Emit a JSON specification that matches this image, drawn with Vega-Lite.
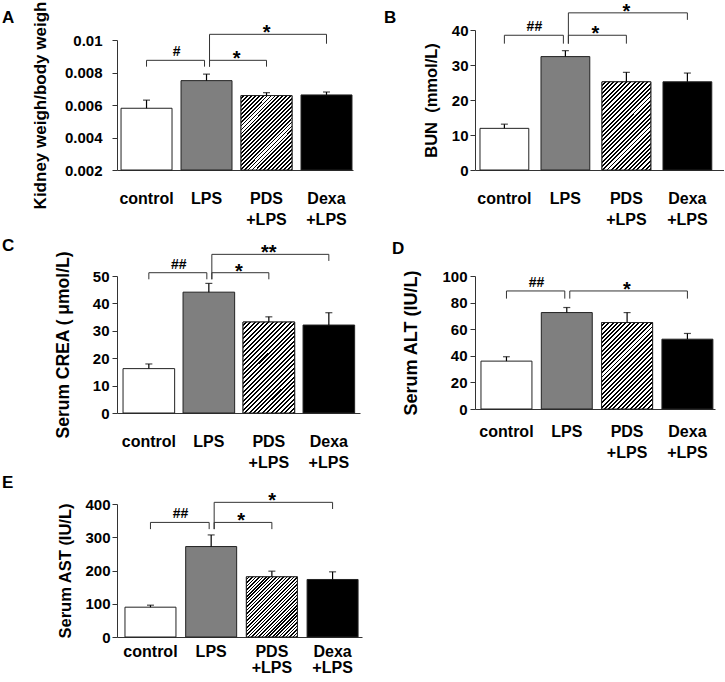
{
"$schema": "https://vega.github.io/schema/vega-lite/v6.json",
"padding": {"left": 2, "top": 1, "right": 0, "bottom": 2},
"datasets": {
"bars": [
{"p":"A","g":"control","m":0.0058,"u":0.0063},
{"p":"A","g":"LPS","m":0.0075,"u":0.0079},
{"p":"A","g":"PDS +LPS","m":0.00658,"u":0.00676},
{"p":"A","g":"Dexa +LPS","m":0.00662,"u":0.0068},
{"p":"B","g":"control","m":11.9,"u":13.1},
{"p":"B","g":"LPS","m":32.4,"u":34.1},
{"p":"B","g":"PDS +LPS","m":25.2,"u":27.9},
{"p":"B","g":"Dexa +LPS","m":25.2,"u":27.7},
{"p":"C","g":"control","m":16.2,"u":17.9},
{"p":"C","g":"LPS","m":44.1,"u":47.3},
{"p":"C","g":"PDS +LPS","m":33.2,"u":35.1},
{"p":"C","g":"Dexa +LPS","m":32.1,"u":36.6},
{"p":"D","g":"control","m":36,"u":39.3},
{"p":"D","g":"LPS","m":72.5,"u":76.3},
{"p":"D","g":"PDS +LPS","m":65,"u":72.5},
{"p":"D","g":"Dexa +LPS","m":52.5,"u":56.8},
{"p":"E","g":"control","m":89.7,"u":95.7},
{"p":"E","g":"LPS","m":272,"u":307},
{"p":"E","g":"PDS +LPS","m":181,"u":198},
{"p":"E","g":"Dexa +LPS","m":173,"u":196}
],
"br": [
{"p":"A","a":"control","b":"LPS","y":0.00875,"ya":0.00836,"yb":0.00836,"t":"#"},
{"p":"A","a":"LPS","b":"PDS +LPS","y":0.00875,"ya":0.00836,"yb":0.00836,"t":"*"},
{"p":"A","a":"LPS","b":"Dexa +LPS","y":0.01035,"ya":0.00836,"yb":0.00977,"t":"*"},
{"p":"B","a":"control","b":"LPS","y":38.5,"ya":36.1,"yb":36.1,"t":"##"},
{"p":"B","a":"LPS","b":"PDS +LPS","y":38.5,"ya":36.1,"yb":36.1,"t":"*"},
{"p":"B","a":"LPS","b":"Dexa +LPS","y":44.9,"ya":36.1,"yb":42.9,"t":"*"},
{"p":"C","a":"control","b":"LPS","y":51.2,"ya":48.8,"yb":48.8,"t":"##"},
{"p":"C","a":"LPS","b":"PDS +LPS","y":51.2,"ya":48.8,"yb":48.8,"t":"*"},
{"p":"C","a":"LPS","b":"Dexa +LPS","y":57.9,"ya":48.8,"yb":55.5,"t":"**"},
{"p":"D","a":"control","b":"LPS","y":88.75,"ya":83,"yb":83,"t":"##"},
{"p":"D","a":"LPS","b":"Dexa +LPS","y":88.75,"ya":83,"yb":83,"t":"*"},
{"p":"E","a":"control","b":"LPS","y":344.6,"ya":324.4,"yb":324.4,"t":"##"},
{"p":"E","a":"LPS","b":"PDS +LPS","y":344.6,"ya":324.4,"yb":324.4,"t":"*"},
{"p":"E","a":"LPS","b":"Dexa +LPS","y":405,"ya":324.4,"yb":385,"t":"*"}
]
},
"columns": 2,
"bounds": "flush",
"align": "none",
"spacing": {"row": 106, "column": 107},
"concat": [
{
"width": 251, "height": 140,
"title": {"text": "A", "dx": -115, "dy": 30},
"layer": [
{"data": {"name": "bars"}, "transform": [{"filter": "datum.p==='A'"}],
 "mark": {"type": "bar", "stroke": "#222", "strokeWidth": 1},
 "encoding": {
  "x": {"field": "g", "type": "nominal", "scale": {"domain": ["control","LPS","PDS +LPS","Dexa +LPS"], "range": [0, 236], "paddingInner": 0.15, "paddingOuter": 0.042, "align": 0.8}, "axis": {"title": null, "labelExpr": "split(datum.label, ' ')"}},
  "y": {"field": "m", "type": "quantitative", "scale": {"domain": [0.002, 0.01], "range": [140, 10], "nice": false, "zero": false}, "axis": {"title": "Kidney weigh/body weigh", "titleFontSize": 17, "values": [0.002, 0.004, 0.006, 0.008, 0.01], "tickCount": 12, "labelOverlap": false, "format": ".3~f", "labelPadding": 10, "titlePadding": 15}},
  "y2": {"datum": 0.002},
  "fill": {"field": "g", "type": "nominal", "scale": {"domain": ["control","LPS","PDS +LPS","Dexa +LPS"], "range": ["#ffffff","#7f7f7f","#ffffff","#000000"]}, "legend": null}
 }},
{"data": {"name": "bars"}, "transform": [{"filter": "datum.p==='A' && datum.g==='PDS +LPS'"}],
 "mark": {"type": "bar", "stroke": "#222", "strokeWidth": 1, "fill": {"gradient": "linear", "x1": 0, "y1": 0, "x2": 0.787, "y2": 1.146, "stops": [{"offset":0,"color":"#fff"},{"offset":0.0172,"color":"#fff"},{"offset":0.0172,"color":"#000"},{"offset":0.0313,"color":"#000"},{"offset":0.0313,"color":"#fff"},{"offset":0.0484,"color":"#fff"},{"offset":0.0484,"color":"#000"},{"offset":0.0625,"color":"#000"},{"offset":0.0625,"color":"#fff"},{"offset":0.0797,"color":"#fff"},{"offset":0.0797,"color":"#000"},{"offset":0.0938,"color":"#000"},{"offset":0.0938,"color":"#fff"},{"offset":0.1109,"color":"#fff"},{"offset":0.1109,"color":"#000"},{"offset":0.125,"color":"#000"},{"offset":0.125,"color":"#fff"},{"offset":0.1422,"color":"#fff"},{"offset":0.1422,"color":"#000"},{"offset":0.1563,"color":"#000"},{"offset":0.1563,"color":"#fff"},{"offset":0.1734,"color":"#fff"},{"offset":0.1734,"color":"#000"},{"offset":0.1875,"color":"#000"},{"offset":0.1875,"color":"#fff"},{"offset":0.2047,"color":"#fff"},{"offset":0.2047,"color":"#000"},{"offset":0.2188,"color":"#000"},{"offset":0.2188,"color":"#fff"},{"offset":0.2359,"color":"#fff"},{"offset":0.2359,"color":"#000"},{"offset":0.25,"color":"#000"},{"offset":0.25,"color":"#fff"},{"offset":0.2672,"color":"#fff"},{"offset":0.2672,"color":"#000"},{"offset":0.2813,"color":"#000"},{"offset":0.2813,"color":"#fff"},{"offset":0.2984,"color":"#fff"},{"offset":0.2984,"color":"#000"},{"offset":0.3125,"color":"#000"},{"offset":0.3125,"color":"#fff"},{"offset":0.3297,"color":"#fff"},{"offset":0.3297,"color":"#000"},{"offset":0.3438,"color":"#000"},{"offset":0.3438,"color":"#fff"},{"offset":0.3609,"color":"#fff"},{"offset":0.3609,"color":"#000"},{"offset":0.375,"color":"#000"},{"offset":0.375,"color":"#fff"},{"offset":0.3922,"color":"#fff"},{"offset":0.3922,"color":"#000"},{"offset":0.4063,"color":"#000"},{"offset":0.4063,"color":"#fff"},{"offset":0.4234,"color":"#fff"},{"offset":0.4234,"color":"#000"},{"offset":0.4375,"color":"#000"},{"offset":0.4375,"color":"#fff"},{"offset":0.4547,"color":"#fff"},{"offset":0.4547,"color":"#000"},{"offset":0.4688,"color":"#000"},{"offset":0.4688,"color":"#fff"},{"offset":0.4859,"color":"#fff"},{"offset":0.4859,"color":"#000"},{"offset":0.5,"color":"#000"},{"offset":0.5,"color":"#fff"},{"offset":0.5172,"color":"#fff"},{"offset":0.5172,"color":"#000"},{"offset":0.5313,"color":"#000"},{"offset":0.5313,"color":"#fff"},{"offset":0.5484,"color":"#fff"},{"offset":0.5484,"color":"#000"},{"offset":0.5625,"color":"#000"},{"offset":0.5625,"color":"#fff"},{"offset":0.5797,"color":"#fff"},{"offset":0.5797,"color":"#000"},{"offset":0.5938,"color":"#000"},{"offset":0.5938,"color":"#fff"},{"offset":0.6109,"color":"#fff"},{"offset":0.6109,"color":"#000"},{"offset":0.625,"color":"#000"},{"offset":0.625,"color":"#fff"},{"offset":0.6422,"color":"#fff"},{"offset":0.6422,"color":"#000"},{"offset":0.6563,"color":"#000"},{"offset":0.6563,"color":"#fff"},{"offset":0.6734,"color":"#fff"},{"offset":0.6734,"color":"#000"},{"offset":0.6875,"color":"#000"},{"offset":0.6875,"color":"#fff"},{"offset":0.7047,"color":"#fff"},{"offset":0.7047,"color":"#000"},{"offset":0.7188,"color":"#000"},{"offset":0.7188,"color":"#fff"},{"offset":0.7359,"color":"#fff"},{"offset":0.7359,"color":"#000"},{"offset":0.75,"color":"#000"},{"offset":0.75,"color":"#fff"},{"offset":0.7672,"color":"#fff"},{"offset":0.7672,"color":"#000"},{"offset":0.7813,"color":"#000"},{"offset":0.7813,"color":"#fff"},{"offset":0.7984,"color":"#fff"},{"offset":0.7984,"color":"#000"},{"offset":0.8125,"color":"#000"},{"offset":0.8125,"color":"#fff"},{"offset":0.8297,"color":"#fff"},{"offset":0.8297,"color":"#000"},{"offset":0.8438,"color":"#000"},{"offset":0.8438,"color":"#fff"},{"offset":0.8609,"color":"#fff"},{"offset":0.8609,"color":"#000"},{"offset":0.875,"color":"#000"},{"offset":0.875,"color":"#fff"},{"offset":0.8922,"color":"#fff"},{"offset":0.8922,"color":"#000"},{"offset":0.9063,"color":"#000"},{"offset":0.9063,"color":"#fff"},{"offset":0.9234,"color":"#fff"},{"offset":0.9234,"color":"#000"},{"offset":0.9375,"color":"#000"},{"offset":0.9375,"color":"#fff"},{"offset":0.9547,"color":"#fff"},{"offset":0.9547,"color":"#000"},{"offset":0.9688,"color":"#000"},{"offset":0.9688,"color":"#fff"},{"offset":0.9859,"color":"#fff"},{"offset":0.9859,"color":"#000"},{"offset":1,"color":"#000"}]}},
 "encoding": {"x": {"field": "g", "type": "nominal"}, "y": {"field": "m", "type": "quantitative"}, "y2": {"datum": 0.002}}},
{"data": {"name": "bars"}, "transform": [{"filter": "datum.p==='A'"}],
 "mark": {"type": "rule", "color": "#000", "strokeWidth": 1.2},
 "encoding": {"x": {"field": "g", "type": "nominal"}, "y": {"field": "m", "type": "quantitative"}, "y2": {"field": "u"}}},
{"data": {"name": "bars"}, "transform": [{"filter": "datum.p==='A'"}],
 "mark": {"type": "tick", "color": "#000", "thickness": 1.2, "size": 7},
 "encoding": {"x": {"field": "g", "type": "nominal"}, "y": {"field": "u", "type": "quantitative"}}},
{"data": {"name": "br"}, "transform": [{"filter": "datum.p==='A' && datum.a==='control'"}],
 "mark": {"type": "rule", "color": "#333", "strokeWidth": 1, "x2Offset": -2},
 "encoding": {"x": {"field": "a", "type": "nominal"}, "x2": {"field": "b"}, "y": {"field": "y", "type": "quantitative"}}},
{"data": {"name": "br"}, "transform": [{"filter": "datum.p==='A' && datum.a==='control'"}],
 "mark": {"type": "rule", "color": "#333", "strokeWidth": 1},
 "encoding": {"x": {"field": "a", "type": "nominal"}, "y": {"field": "y", "type": "quantitative"}, "y2": {"field": "ya"}}},
{"data": {"name": "br"}, "transform": [{"filter": "datum.p==='A' && datum.a==='control'"}],
 "mark": {"type": "rule", "color": "#333", "strokeWidth": 1, "xOffset": -2},
 "encoding": {"x": {"field": "b", "type": "nominal"}, "y": {"field": "y", "type": "quantitative"}, "y2": {"field": "yb"}}},
{"data": {"name": "br"}, "transform": [{"filter": "datum.p==='A' && datum.a==='LPS'"}],
 "mark": {"type": "rule", "color": "#333", "strokeWidth": 1, "xOffset": 3},
 "encoding": {"x": {"field": "a", "type": "nominal"}, "x2": {"field": "b"}, "y": {"field": "y", "type": "quantitative"}}},
{"data": {"name": "br"}, "transform": [{"filter": "datum.p==='A' && datum.a==='LPS'"}],
 "mark": {"type": "rule", "color": "#333", "strokeWidth": 1, "xOffset": 3},
 "encoding": {"x": {"field": "a", "type": "nominal"}, "y": {"field": "y", "type": "quantitative"}, "y2": {"field": "ya"}}},
{"data": {"name": "br"}, "transform": [{"filter": "datum.p==='A' && datum.a==='LPS'"}],
 "mark": {"type": "rule", "color": "#333", "strokeWidth": 1},
 "encoding": {"x": {"field": "b", "type": "nominal"}, "y": {"field": "y", "type": "quantitative"}, "y2": {"field": "yb"}}},
{"data": {"name": "br"}, "transform": [{"filter": "datum.p==='A' && datum.a==='control'"}],
 "mark": {"type": "text", "fontSize": 14, "fontWeight": "bold", "baseline": "alphabetic", "dy": -4, "xOffset": 30},
 "encoding": {"x": {"field": "a", "type": "nominal"}, "y": {"field": "y", "type": "quantitative"}, "text": {"field": "t"}}},
{"data": {"name": "br"}, "transform": [{"filter": "datum.p==='A' && datum.a==='LPS' && datum.b==='PDS +LPS'"}],
 "mark": {"type": "text", "fontSize": 20, "fontWeight": "bold", "baseline": "alphabetic", "dy": 5, "xOffset": 30},
 "encoding": {"x": {"field": "a", "type": "nominal"}, "y": {"field": "y", "type": "quantitative"}, "text": {"field": "t"}}},
{"data": {"name": "br"}, "transform": [{"filter": "datum.p==='A' && datum.a==='LPS' && datum.b==='Dexa +LPS'"}],
 "mark": {"type": "text", "fontSize": 20, "fontWeight": "bold", "baseline": "alphabetic", "dy": 5, "xOffset": 60},
 "encoding": {"x": {"field": "a", "type": "nominal"}, "y": {"field": "y", "type": "quantitative"}, "text": {"field": "t"}}}
]
},
{
"width": 249, "height": 140,
"title": {"text": "B", "dx": -91, "dy": 29},
"layer": [
{"data": {"name": "bars"}, "transform": [{"filter": "datum.p==='B'"}],
 "mark": {"type": "bar", "stroke": "#222", "strokeWidth": 1},
 "encoding": {
  "x": {"field": "g", "type": "nominal", "scale": {"domain": ["control","LPS","PDS +LPS","Dexa +LPS"], "range": [0, 249], "paddingInner": 0.2, "paddingOuter": 0.141, "align": 0.29}, "axis": {"title": null, "labelExpr": "split(datum.label, ' ')"}},
  "y": {"field": "m", "type": "quantitative", "scale": {"domain": [0, 40], "nice": false}, "axis": {"title": "BUN\u00a0 (mmol/L)", "titleFontSize": 16.5, "values": [0, 10, 20, 30, 40], "tickCount": 12, "labelOverlap": false, "labelPadding": 2, "titlePadding": 12}},
  "fill": {"field": "g", "type": "nominal", "scale": {"domain": ["control","LPS","PDS +LPS","Dexa +LPS"], "range": ["#ffffff","#7f7f7f","#ffffff","#000000"]}, "legend": null}
 }},
{"data": {"name": "bars"}, "transform": [{"filter": "datum.p==='B' && datum.g==='PDS +LPS'"}],
 "mark": {"type": "bar", "stroke": "#222", "strokeWidth": 1, "fill": {"gradient": "linear", "x1": 0, "y1": 0, "x2": 0.658, "y2": 1.189, "stops": [{"offset":0,"color":"#fff"},{"offset":0.0172,"color":"#fff"},{"offset":0.0172,"color":"#000"},{"offset":0.0313,"color":"#000"},{"offset":0.0313,"color":"#fff"},{"offset":0.0484,"color":"#fff"},{"offset":0.0484,"color":"#000"},{"offset":0.0625,"color":"#000"},{"offset":0.0625,"color":"#fff"},{"offset":0.0797,"color":"#fff"},{"offset":0.0797,"color":"#000"},{"offset":0.0938,"color":"#000"},{"offset":0.0938,"color":"#fff"},{"offset":0.1109,"color":"#fff"},{"offset":0.1109,"color":"#000"},{"offset":0.125,"color":"#000"},{"offset":0.125,"color":"#fff"},{"offset":0.1422,"color":"#fff"},{"offset":0.1422,"color":"#000"},{"offset":0.1563,"color":"#000"},{"offset":0.1563,"color":"#fff"},{"offset":0.1734,"color":"#fff"},{"offset":0.1734,"color":"#000"},{"offset":0.1875,"color":"#000"},{"offset":0.1875,"color":"#fff"},{"offset":0.2047,"color":"#fff"},{"offset":0.2047,"color":"#000"},{"offset":0.2188,"color":"#000"},{"offset":0.2188,"color":"#fff"},{"offset":0.2359,"color":"#fff"},{"offset":0.2359,"color":"#000"},{"offset":0.25,"color":"#000"},{"offset":0.25,"color":"#fff"},{"offset":0.2672,"color":"#fff"},{"offset":0.2672,"color":"#000"},{"offset":0.2813,"color":"#000"},{"offset":0.2813,"color":"#fff"},{"offset":0.2984,"color":"#fff"},{"offset":0.2984,"color":"#000"},{"offset":0.3125,"color":"#000"},{"offset":0.3125,"color":"#fff"},{"offset":0.3297,"color":"#fff"},{"offset":0.3297,"color":"#000"},{"offset":0.3438,"color":"#000"},{"offset":0.3438,"color":"#fff"},{"offset":0.3609,"color":"#fff"},{"offset":0.3609,"color":"#000"},{"offset":0.375,"color":"#000"},{"offset":0.375,"color":"#fff"},{"offset":0.3922,"color":"#fff"},{"offset":0.3922,"color":"#000"},{"offset":0.4063,"color":"#000"},{"offset":0.4063,"color":"#fff"},{"offset":0.4234,"color":"#fff"},{"offset":0.4234,"color":"#000"},{"offset":0.4375,"color":"#000"},{"offset":0.4375,"color":"#fff"},{"offset":0.4547,"color":"#fff"},{"offset":0.4547,"color":"#000"},{"offset":0.4688,"color":"#000"},{"offset":0.4688,"color":"#fff"},{"offset":0.4859,"color":"#fff"},{"offset":0.4859,"color":"#000"},{"offset":0.5,"color":"#000"},{"offset":0.5,"color":"#fff"},{"offset":0.5172,"color":"#fff"},{"offset":0.5172,"color":"#000"},{"offset":0.5313,"color":"#000"},{"offset":0.5313,"color":"#fff"},{"offset":0.5484,"color":"#fff"},{"offset":0.5484,"color":"#000"},{"offset":0.5625,"color":"#000"},{"offset":0.5625,"color":"#fff"},{"offset":0.5797,"color":"#fff"},{"offset":0.5797,"color":"#000"},{"offset":0.5938,"color":"#000"},{"offset":0.5938,"color":"#fff"},{"offset":0.6109,"color":"#fff"},{"offset":0.6109,"color":"#000"},{"offset":0.625,"color":"#000"},{"offset":0.625,"color":"#fff"},{"offset":0.6422,"color":"#fff"},{"offset":0.6422,"color":"#000"},{"offset":0.6563,"color":"#000"},{"offset":0.6563,"color":"#fff"},{"offset":0.6734,"color":"#fff"},{"offset":0.6734,"color":"#000"},{"offset":0.6875,"color":"#000"},{"offset":0.6875,"color":"#fff"},{"offset":0.7047,"color":"#fff"},{"offset":0.7047,"color":"#000"},{"offset":0.7188,"color":"#000"},{"offset":0.7188,"color":"#fff"},{"offset":0.7359,"color":"#fff"},{"offset":0.7359,"color":"#000"},{"offset":0.75,"color":"#000"},{"offset":0.75,"color":"#fff"},{"offset":0.7672,"color":"#fff"},{"offset":0.7672,"color":"#000"},{"offset":0.7813,"color":"#000"},{"offset":0.7813,"color":"#fff"},{"offset":0.7984,"color":"#fff"},{"offset":0.7984,"color":"#000"},{"offset":0.8125,"color":"#000"},{"offset":0.8125,"color":"#fff"},{"offset":0.8297,"color":"#fff"},{"offset":0.8297,"color":"#000"},{"offset":0.8438,"color":"#000"},{"offset":0.8438,"color":"#fff"},{"offset":0.8609,"color":"#fff"},{"offset":0.8609,"color":"#000"},{"offset":0.875,"color":"#000"},{"offset":0.875,"color":"#fff"},{"offset":0.8922,"color":"#fff"},{"offset":0.8922,"color":"#000"},{"offset":0.9063,"color":"#000"},{"offset":0.9063,"color":"#fff"},{"offset":0.9234,"color":"#fff"},{"offset":0.9234,"color":"#000"},{"offset":0.9375,"color":"#000"},{"offset":0.9375,"color":"#fff"},{"offset":0.9547,"color":"#fff"},{"offset":0.9547,"color":"#000"},{"offset":0.9688,"color":"#000"},{"offset":0.9688,"color":"#fff"},{"offset":0.9859,"color":"#fff"},{"offset":0.9859,"color":"#000"},{"offset":1,"color":"#000"}]}},
 "encoding": {"x": {"field": "g", "type": "nominal"}, "y": {"field": "m", "type": "quantitative"}}},
{"data": {"name": "bars"}, "transform": [{"filter": "datum.p==='B'"}],
 "mark": {"type": "rule", "color": "#000", "strokeWidth": 1.2},
 "encoding": {"x": {"field": "g", "type": "nominal"}, "y": {"field": "m", "type": "quantitative"}, "y2": {"field": "u"}}},
{"data": {"name": "bars"}, "transform": [{"filter": "datum.p==='B'"}],
 "mark": {"type": "tick", "color": "#000", "thickness": 1.2, "size": 7},
 "encoding": {"x": {"field": "g", "type": "nominal"}, "y": {"field": "u", "type": "quantitative"}}},
{"data": {"name": "br"}, "transform": [{"filter": "datum.p==='B' && datum.a==='control'"}],
 "mark": {"type": "rule", "color": "#333", "strokeWidth": 1, "x2Offset": -2},
 "encoding": {"x": {"field": "a", "type": "nominal"}, "x2": {"field": "b"}, "y": {"field": "y", "type": "quantitative"}}},
{"data": {"name": "br"}, "transform": [{"filter": "datum.p==='B' && datum.a==='control'"}],
 "mark": {"type": "rule", "color": "#333", "strokeWidth": 1},
 "encoding": {"x": {"field": "a", "type": "nominal"}, "y": {"field": "y", "type": "quantitative"}, "y2": {"field": "ya"}}},
{"data": {"name": "br"}, "transform": [{"filter": "datum.p==='B' && datum.a==='control'"}],
 "mark": {"type": "rule", "color": "#333", "strokeWidth": 1, "xOffset": -2},
 "encoding": {"x": {"field": "b", "type": "nominal"}, "y": {"field": "y", "type": "quantitative"}, "y2": {"field": "yb"}}},
{"data": {"name": "br"}, "transform": [{"filter": "datum.p==='B' && datum.a==='LPS'"}],
 "mark": {"type": "rule", "color": "#333", "strokeWidth": 1, "xOffset": 3},
 "encoding": {"x": {"field": "a", "type": "nominal"}, "x2": {"field": "b"}, "y": {"field": "y", "type": "quantitative"}}},
{"data": {"name": "br"}, "transform": [{"filter": "datum.p==='B' && datum.a==='LPS'"}],
 "mark": {"type": "rule", "color": "#333", "strokeWidth": 1, "xOffset": 3},
 "encoding": {"x": {"field": "a", "type": "nominal"}, "y": {"field": "y", "type": "quantitative"}, "y2": {"field": "ya"}}},
{"data": {"name": "br"}, "transform": [{"filter": "datum.p==='B' && datum.a==='LPS'"}],
 "mark": {"type": "rule", "color": "#333", "strokeWidth": 1},
 "encoding": {"x": {"field": "b", "type": "nominal"}, "y": {"field": "y", "type": "quantitative"}, "y2": {"field": "yb"}}},
{"data": {"name": "br"}, "transform": [{"filter": "datum.p==='B' && datum.a==='control'"}],
 "mark": {"type": "text", "fontSize": 14, "fontWeight": "bold", "baseline": "alphabetic", "dy": -4, "xOffset": 30},
 "encoding": {"x": {"field": "a", "type": "nominal"}, "y": {"field": "y", "type": "quantitative"}, "text": {"field": "t"}}},
{"data": {"name": "br"}, "transform": [{"filter": "datum.p==='B' && datum.a==='LPS' && datum.b==='PDS +LPS'"}],
 "mark": {"type": "text", "fontSize": 20, "fontWeight": "bold", "baseline": "alphabetic", "dy": 5, "xOffset": 30},
 "encoding": {"x": {"field": "a", "type": "nominal"}, "y": {"field": "y", "type": "quantitative"}, "text": {"field": "t"}}},
{"data": {"name": "br"}, "transform": [{"filter": "datum.p==='B' && datum.a==='LPS' && datum.b==='Dexa +LPS'"}],
 "mark": {"type": "text", "fontSize": 20, "fontWeight": "bold", "baseline": "alphabetic", "dy": 5, "xOffset": 61},
 "encoding": {"x": {"field": "a", "type": "nominal"}, "y": {"field": "y", "type": "quantitative"}, "text": {"field": "t"}}}
]
},
{
"width": 243, "height": 137,
"title": {"text": "C", "dx": -115, "dy": 16},
"layer": [
{"data": {"name": "bars"}, "transform": [{"filter": "datum.p==='C'"}],
 "mark": {"type": "bar", "stroke": "#222", "strokeWidth": 1},
 "encoding": {
  "x": {"field": "g", "type": "nominal", "scale": {"domain": ["control","LPS","PDS +LPS","Dexa +LPS"], "range": [0, 243], "paddingInner": 0.14, "paddingOuter": 0.095, "align": 0.53}, "axis": {"title": null, "labelExpr": "split(datum.label, ' ')"}},
  "y": {"field": "m", "type": "quantitative", "scale": {"domain": [0, 50], "nice": false}, "axis": {"title": "Serum CREA ( μmol/L)", "titleFontSize": 17.5, "values": [0, 10, 20, 30, 40, 50], "tickCount": 12, "labelOverlap": false, "labelPadding": 3, "titlePadding": 20}},
  "fill": {"field": "g", "type": "nominal", "scale": {"domain": ["control","LPS","PDS +LPS","Dexa +LPS"], "range": ["#ffffff","#7f7f7f","#ffffff","#000000"]}, "legend": null}
 }},
{"data": {"name": "bars"}, "transform": [{"filter": "datum.p==='C' && datum.g==='PDS +LPS'"}],
 "mark": {"type": "bar", "stroke": "#222", "strokeWidth": 1, "fill": {"gradient": "linear", "x1": 0, "y1": 0, "x2": 0.672, "y2": 1.186, "stops": [{"offset":0,"color":"#fff"},{"offset":0.0172,"color":"#fff"},{"offset":0.0172,"color":"#000"},{"offset":0.0313,"color":"#000"},{"offset":0.0313,"color":"#fff"},{"offset":0.0484,"color":"#fff"},{"offset":0.0484,"color":"#000"},{"offset":0.0625,"color":"#000"},{"offset":0.0625,"color":"#fff"},{"offset":0.0797,"color":"#fff"},{"offset":0.0797,"color":"#000"},{"offset":0.0938,"color":"#000"},{"offset":0.0938,"color":"#fff"},{"offset":0.1109,"color":"#fff"},{"offset":0.1109,"color":"#000"},{"offset":0.125,"color":"#000"},{"offset":0.125,"color":"#fff"},{"offset":0.1422,"color":"#fff"},{"offset":0.1422,"color":"#000"},{"offset":0.1563,"color":"#000"},{"offset":0.1563,"color":"#fff"},{"offset":0.1734,"color":"#fff"},{"offset":0.1734,"color":"#000"},{"offset":0.1875,"color":"#000"},{"offset":0.1875,"color":"#fff"},{"offset":0.2047,"color":"#fff"},{"offset":0.2047,"color":"#000"},{"offset":0.2188,"color":"#000"},{"offset":0.2188,"color":"#fff"},{"offset":0.2359,"color":"#fff"},{"offset":0.2359,"color":"#000"},{"offset":0.25,"color":"#000"},{"offset":0.25,"color":"#fff"},{"offset":0.2672,"color":"#fff"},{"offset":0.2672,"color":"#000"},{"offset":0.2813,"color":"#000"},{"offset":0.2813,"color":"#fff"},{"offset":0.2984,"color":"#fff"},{"offset":0.2984,"color":"#000"},{"offset":0.3125,"color":"#000"},{"offset":0.3125,"color":"#fff"},{"offset":0.3297,"color":"#fff"},{"offset":0.3297,"color":"#000"},{"offset":0.3438,"color":"#000"},{"offset":0.3438,"color":"#fff"},{"offset":0.3609,"color":"#fff"},{"offset":0.3609,"color":"#000"},{"offset":0.375,"color":"#000"},{"offset":0.375,"color":"#fff"},{"offset":0.3922,"color":"#fff"},{"offset":0.3922,"color":"#000"},{"offset":0.4063,"color":"#000"},{"offset":0.4063,"color":"#fff"},{"offset":0.4234,"color":"#fff"},{"offset":0.4234,"color":"#000"},{"offset":0.4375,"color":"#000"},{"offset":0.4375,"color":"#fff"},{"offset":0.4547,"color":"#fff"},{"offset":0.4547,"color":"#000"},{"offset":0.4688,"color":"#000"},{"offset":0.4688,"color":"#fff"},{"offset":0.4859,"color":"#fff"},{"offset":0.4859,"color":"#000"},{"offset":0.5,"color":"#000"},{"offset":0.5,"color":"#fff"},{"offset":0.5172,"color":"#fff"},{"offset":0.5172,"color":"#000"},{"offset":0.5313,"color":"#000"},{"offset":0.5313,"color":"#fff"},{"offset":0.5484,"color":"#fff"},{"offset":0.5484,"color":"#000"},{"offset":0.5625,"color":"#000"},{"offset":0.5625,"color":"#fff"},{"offset":0.5797,"color":"#fff"},{"offset":0.5797,"color":"#000"},{"offset":0.5938,"color":"#000"},{"offset":0.5938,"color":"#fff"},{"offset":0.6109,"color":"#fff"},{"offset":0.6109,"color":"#000"},{"offset":0.625,"color":"#000"},{"offset":0.625,"color":"#fff"},{"offset":0.6422,"color":"#fff"},{"offset":0.6422,"color":"#000"},{"offset":0.6563,"color":"#000"},{"offset":0.6563,"color":"#fff"},{"offset":0.6734,"color":"#fff"},{"offset":0.6734,"color":"#000"},{"offset":0.6875,"color":"#000"},{"offset":0.6875,"color":"#fff"},{"offset":0.7047,"color":"#fff"},{"offset":0.7047,"color":"#000"},{"offset":0.7188,"color":"#000"},{"offset":0.7188,"color":"#fff"},{"offset":0.7359,"color":"#fff"},{"offset":0.7359,"color":"#000"},{"offset":0.75,"color":"#000"},{"offset":0.75,"color":"#fff"},{"offset":0.7672,"color":"#fff"},{"offset":0.7672,"color":"#000"},{"offset":0.7813,"color":"#000"},{"offset":0.7813,"color":"#fff"},{"offset":0.7984,"color":"#fff"},{"offset":0.7984,"color":"#000"},{"offset":0.8125,"color":"#000"},{"offset":0.8125,"color":"#fff"},{"offset":0.8297,"color":"#fff"},{"offset":0.8297,"color":"#000"},{"offset":0.8438,"color":"#000"},{"offset":0.8438,"color":"#fff"},{"offset":0.8609,"color":"#fff"},{"offset":0.8609,"color":"#000"},{"offset":0.875,"color":"#000"},{"offset":0.875,"color":"#fff"},{"offset":0.8922,"color":"#fff"},{"offset":0.8922,"color":"#000"},{"offset":0.9063,"color":"#000"},{"offset":0.9063,"color":"#fff"},{"offset":0.9234,"color":"#fff"},{"offset":0.9234,"color":"#000"},{"offset":0.9375,"color":"#000"},{"offset":0.9375,"color":"#fff"},{"offset":0.9547,"color":"#fff"},{"offset":0.9547,"color":"#000"},{"offset":0.9688,"color":"#000"},{"offset":0.9688,"color":"#fff"},{"offset":0.9859,"color":"#fff"},{"offset":0.9859,"color":"#000"},{"offset":1,"color":"#000"}]}},
 "encoding": {"x": {"field": "g", "type": "nominal"}, "y": {"field": "m", "type": "quantitative"}}},
{"data": {"name": "bars"}, "transform": [{"filter": "datum.p==='C'"}],
 "mark": {"type": "rule", "color": "#000", "strokeWidth": 1.2},
 "encoding": {"x": {"field": "g", "type": "nominal"}, "y": {"field": "m", "type": "quantitative"}, "y2": {"field": "u"}}},
{"data": {"name": "bars"}, "transform": [{"filter": "datum.p==='C'"}],
 "mark": {"type": "tick", "color": "#000", "thickness": 1.2, "size": 7},
 "encoding": {"x": {"field": "g", "type": "nominal"}, "y": {"field": "u", "type": "quantitative"}}},
{"data": {"name": "br"}, "transform": [{"filter": "datum.p==='C' && datum.a==='control'"}],
 "mark": {"type": "rule", "color": "#333", "strokeWidth": 1, "x2Offset": -2},
 "encoding": {"x": {"field": "a", "type": "nominal"}, "x2": {"field": "b"}, "y": {"field": "y", "type": "quantitative"}}},
{"data": {"name": "br"}, "transform": [{"filter": "datum.p==='C' && datum.a==='control'"}],
 "mark": {"type": "rule", "color": "#333", "strokeWidth": 1},
 "encoding": {"x": {"field": "a", "type": "nominal"}, "y": {"field": "y", "type": "quantitative"}, "y2": {"field": "ya"}}},
{"data": {"name": "br"}, "transform": [{"filter": "datum.p==='C' && datum.a==='control'"}],
 "mark": {"type": "rule", "color": "#333", "strokeWidth": 1, "xOffset": -2},
 "encoding": {"x": {"field": "b", "type": "nominal"}, "y": {"field": "y", "type": "quantitative"}, "y2": {"field": "yb"}}},
{"data": {"name": "br"}, "transform": [{"filter": "datum.p==='C' && datum.a==='LPS'"}],
 "mark": {"type": "rule", "color": "#333", "strokeWidth": 1, "xOffset": 3},
 "encoding": {"x": {"field": "a", "type": "nominal"}, "x2": {"field": "b"}, "y": {"field": "y", "type": "quantitative"}}},
{"data": {"name": "br"}, "transform": [{"filter": "datum.p==='C' && datum.a==='LPS'"}],
 "mark": {"type": "rule", "color": "#333", "strokeWidth": 1, "xOffset": 3},
 "encoding": {"x": {"field": "a", "type": "nominal"}, "y": {"field": "y", "type": "quantitative"}, "y2": {"field": "ya"}}},
{"data": {"name": "br"}, "transform": [{"filter": "datum.p==='C' && datum.a==='LPS'"}],
 "mark": {"type": "rule", "color": "#333", "strokeWidth": 1},
 "encoding": {"x": {"field": "b", "type": "nominal"}, "y": {"field": "y", "type": "quantitative"}, "y2": {"field": "yb"}}},
{"data": {"name": "br"}, "transform": [{"filter": "datum.p==='C' && datum.a==='control'"}],
 "mark": {"type": "text", "fontSize": 14, "fontWeight": "bold", "baseline": "alphabetic", "dy": -4, "xOffset": 30},
 "encoding": {"x": {"field": "a", "type": "nominal"}, "y": {"field": "y", "type": "quantitative"}, "text": {"field": "t"}}},
{"data": {"name": "br"}, "transform": [{"filter": "datum.p==='C' && datum.a==='LPS' && datum.b==='PDS +LPS'"}],
 "mark": {"type": "text", "fontSize": 20, "fontWeight": "bold", "baseline": "alphabetic", "dy": 5, "xOffset": 30},
 "encoding": {"x": {"field": "a", "type": "nominal"}, "y": {"field": "y", "type": "quantitative"}, "text": {"field": "t"}}},
{"data": {"name": "br"}, "transform": [{"filter": "datum.p==='C' && datum.a==='LPS' && datum.b==='Dexa +LPS'"}],
 "mark": {"type": "text", "fontSize": 20, "fontWeight": "bold", "baseline": "alphabetic", "dy": 5, "xOffset": 60},
 "encoding": {"x": {"field": "a", "type": "nominal"}, "y": {"field": "y", "type": "quantitative"}, "text": {"field": "t"}}}
]
},
{
"width": 240, "height": 133,
"title": {"text": "D", "dx": -83, "dy": -7},
"layer": [
{"data": {"name": "bars"}, "transform": [{"filter": "datum.p==='D'"}],
 "mark": {"type": "bar", "stroke": "#222", "strokeWidth": 1},
 "encoding": {
  "x": {"field": "g", "type": "nominal", "scale": {"domain": ["control","LPS","PDS +LPS","Dexa +LPS"], "range": [0, 240], "paddingInner": 0.155, "paddingOuter": 0.067, "align": 0.74}, "axis": {"title": null, "labelExpr": "split(datum.label, ' ')", "labelPadding": 14}},
  "y": {"field": "m", "type": "quantitative", "scale": {"domain": [0, 100], "nice": false}, "axis": {"title": "Serum ALT (IU/L)", "titleFontSize": 18, "values": [0, 20, 40, 60, 80, 100], "tickCount": 12, "labelOverlap": false, "labelPadding": 3, "titlePadding": 21}},
  "fill": {"field": "g", "type": "nominal", "scale": {"domain": ["control","LPS","PDS +LPS","Dexa +LPS"], "range": ["#ffffff","#7f7f7f","#ffffff","#000000"]}, "legend": null}
 }},
{"data": {"name": "bars"}, "transform": [{"filter": "datum.p==='D' && datum.g==='PDS +LPS'"}],
 "mark": {"type": "bar", "stroke": "#222", "strokeWidth": 1, "fill": {"gradient": "linear", "x1": 0, "y1": 0, "x2": 0.695, "y2": 1.179, "stops": [{"offset":0,"color":"#fff"},{"offset":0.0172,"color":"#fff"},{"offset":0.0172,"color":"#000"},{"offset":0.0313,"color":"#000"},{"offset":0.0313,"color":"#fff"},{"offset":0.0484,"color":"#fff"},{"offset":0.0484,"color":"#000"},{"offset":0.0625,"color":"#000"},{"offset":0.0625,"color":"#fff"},{"offset":0.0797,"color":"#fff"},{"offset":0.0797,"color":"#000"},{"offset":0.0938,"color":"#000"},{"offset":0.0938,"color":"#fff"},{"offset":0.1109,"color":"#fff"},{"offset":0.1109,"color":"#000"},{"offset":0.125,"color":"#000"},{"offset":0.125,"color":"#fff"},{"offset":0.1422,"color":"#fff"},{"offset":0.1422,"color":"#000"},{"offset":0.1563,"color":"#000"},{"offset":0.1563,"color":"#fff"},{"offset":0.1734,"color":"#fff"},{"offset":0.1734,"color":"#000"},{"offset":0.1875,"color":"#000"},{"offset":0.1875,"color":"#fff"},{"offset":0.2047,"color":"#fff"},{"offset":0.2047,"color":"#000"},{"offset":0.2188,"color":"#000"},{"offset":0.2188,"color":"#fff"},{"offset":0.2359,"color":"#fff"},{"offset":0.2359,"color":"#000"},{"offset":0.25,"color":"#000"},{"offset":0.25,"color":"#fff"},{"offset":0.2672,"color":"#fff"},{"offset":0.2672,"color":"#000"},{"offset":0.2813,"color":"#000"},{"offset":0.2813,"color":"#fff"},{"offset":0.2984,"color":"#fff"},{"offset":0.2984,"color":"#000"},{"offset":0.3125,"color":"#000"},{"offset":0.3125,"color":"#fff"},{"offset":0.3297,"color":"#fff"},{"offset":0.3297,"color":"#000"},{"offset":0.3438,"color":"#000"},{"offset":0.3438,"color":"#fff"},{"offset":0.3609,"color":"#fff"},{"offset":0.3609,"color":"#000"},{"offset":0.375,"color":"#000"},{"offset":0.375,"color":"#fff"},{"offset":0.3922,"color":"#fff"},{"offset":0.3922,"color":"#000"},{"offset":0.4063,"color":"#000"},{"offset":0.4063,"color":"#fff"},{"offset":0.4234,"color":"#fff"},{"offset":0.4234,"color":"#000"},{"offset":0.4375,"color":"#000"},{"offset":0.4375,"color":"#fff"},{"offset":0.4547,"color":"#fff"},{"offset":0.4547,"color":"#000"},{"offset":0.4688,"color":"#000"},{"offset":0.4688,"color":"#fff"},{"offset":0.4859,"color":"#fff"},{"offset":0.4859,"color":"#000"},{"offset":0.5,"color":"#000"},{"offset":0.5,"color":"#fff"},{"offset":0.5172,"color":"#fff"},{"offset":0.5172,"color":"#000"},{"offset":0.5313,"color":"#000"},{"offset":0.5313,"color":"#fff"},{"offset":0.5484,"color":"#fff"},{"offset":0.5484,"color":"#000"},{"offset":0.5625,"color":"#000"},{"offset":0.5625,"color":"#fff"},{"offset":0.5797,"color":"#fff"},{"offset":0.5797,"color":"#000"},{"offset":0.5938,"color":"#000"},{"offset":0.5938,"color":"#fff"},{"offset":0.6109,"color":"#fff"},{"offset":0.6109,"color":"#000"},{"offset":0.625,"color":"#000"},{"offset":0.625,"color":"#fff"},{"offset":0.6422,"color":"#fff"},{"offset":0.6422,"color":"#000"},{"offset":0.6563,"color":"#000"},{"offset":0.6563,"color":"#fff"},{"offset":0.6734,"color":"#fff"},{"offset":0.6734,"color":"#000"},{"offset":0.6875,"color":"#000"},{"offset":0.6875,"color":"#fff"},{"offset":0.7047,"color":"#fff"},{"offset":0.7047,"color":"#000"},{"offset":0.7188,"color":"#000"},{"offset":0.7188,"color":"#fff"},{"offset":0.7359,"color":"#fff"},{"offset":0.7359,"color":"#000"},{"offset":0.75,"color":"#000"},{"offset":0.75,"color":"#fff"},{"offset":0.7672,"color":"#fff"},{"offset":0.7672,"color":"#000"},{"offset":0.7813,"color":"#000"},{"offset":0.7813,"color":"#fff"},{"offset":0.7984,"color":"#fff"},{"offset":0.7984,"color":"#000"},{"offset":0.8125,"color":"#000"},{"offset":0.8125,"color":"#fff"},{"offset":0.8297,"color":"#fff"},{"offset":0.8297,"color":"#000"},{"offset":0.8438,"color":"#000"},{"offset":0.8438,"color":"#fff"},{"offset":0.8609,"color":"#fff"},{"offset":0.8609,"color":"#000"},{"offset":0.875,"color":"#000"},{"offset":0.875,"color":"#fff"},{"offset":0.8922,"color":"#fff"},{"offset":0.8922,"color":"#000"},{"offset":0.9063,"color":"#000"},{"offset":0.9063,"color":"#fff"},{"offset":0.9234,"color":"#fff"},{"offset":0.9234,"color":"#000"},{"offset":0.9375,"color":"#000"},{"offset":0.9375,"color":"#fff"},{"offset":0.9547,"color":"#fff"},{"offset":0.9547,"color":"#000"},{"offset":0.9688,"color":"#000"},{"offset":0.9688,"color":"#fff"},{"offset":0.9859,"color":"#fff"},{"offset":0.9859,"color":"#000"},{"offset":1,"color":"#000"}]}},
 "encoding": {"x": {"field": "g", "type": "nominal"}, "y": {"field": "m", "type": "quantitative"}}},
{"data": {"name": "bars"}, "transform": [{"filter": "datum.p==='D'"}],
 "mark": {"type": "rule", "color": "#000", "strokeWidth": 1.2},
 "encoding": {"x": {"field": "g", "type": "nominal"}, "y": {"field": "m", "type": "quantitative"}, "y2": {"field": "u"}}},
{"data": {"name": "bars"}, "transform": [{"filter": "datum.p==='D'"}],
 "mark": {"type": "tick", "color": "#000", "thickness": 1.2, "size": 7},
 "encoding": {"x": {"field": "g", "type": "nominal"}, "y": {"field": "u", "type": "quantitative"}}},
{"data": {"name": "br"}, "transform": [{"filter": "datum.p==='D' && datum.a==='control'"}],
 "mark": {"type": "rule", "color": "#333", "strokeWidth": 1, "x2Offset": -2},
 "encoding": {"x": {"field": "a", "type": "nominal"}, "x2": {"field": "b"}, "y": {"field": "y", "type": "quantitative"}}},
{"data": {"name": "br"}, "transform": [{"filter": "datum.p==='D' && datum.a==='control'"}],
 "mark": {"type": "rule", "color": "#333", "strokeWidth": 1},
 "encoding": {"x": {"field": "a", "type": "nominal"}, "y": {"field": "y", "type": "quantitative"}, "y2": {"field": "ya"}}},
{"data": {"name": "br"}, "transform": [{"filter": "datum.p==='D' && datum.a==='control'"}],
 "mark": {"type": "rule", "color": "#333", "strokeWidth": 1, "xOffset": -2},
 "encoding": {"x": {"field": "b", "type": "nominal"}, "y": {"field": "y", "type": "quantitative"}, "y2": {"field": "yb"}}},
{"data": {"name": "br"}, "transform": [{"filter": "datum.p==='D' && datum.a==='LPS'"}],
 "mark": {"type": "rule", "color": "#333", "strokeWidth": 1, "xOffset": 3},
 "encoding": {"x": {"field": "a", "type": "nominal"}, "x2": {"field": "b"}, "y": {"field": "y", "type": "quantitative"}}},
{"data": {"name": "br"}, "transform": [{"filter": "datum.p==='D' && datum.a==='LPS'"}],
 "mark": {"type": "rule", "color": "#333", "strokeWidth": 1, "xOffset": 3},
 "encoding": {"x": {"field": "a", "type": "nominal"}, "y": {"field": "y", "type": "quantitative"}, "y2": {"field": "ya"}}},
{"data": {"name": "br"}, "transform": [{"filter": "datum.p==='D' && datum.a==='LPS'"}],
 "mark": {"type": "rule", "color": "#333", "strokeWidth": 1},
 "encoding": {"x": {"field": "b", "type": "nominal"}, "y": {"field": "y", "type": "quantitative"}, "y2": {"field": "yb"}}},
{"data": {"name": "br"}, "transform": [{"filter": "datum.p==='D' && datum.a==='control'"}],
 "mark": {"type": "text", "fontSize": 14, "fontWeight": "bold", "baseline": "alphabetic", "dy": -4, "xOffset": 30},
 "encoding": {"x": {"field": "a", "type": "nominal"}, "y": {"field": "y", "type": "quantitative"}, "text": {"field": "t"}}},
{"data": {"name": "br"}, "transform": [{"filter": "datum.p==='D' && datum.a==='LPS' && datum.b==='Dexa +LPS'"}],
 "mark": {"type": "text", "fontSize": 20, "fontWeight": "bold", "baseline": "alphabetic", "dy": 5, "xOffset": 60},
 "encoding": {"x": {"field": "a", "type": "nominal"}, "y": {"field": "y", "type": "quantitative"}, "text": {"field": "t"}}}
]
},
{
"width": 245, "height": 118,
"title": {"text": "E", "dx": -115, "dy": 5},
"layer": [
{"data": {"name": "bars"}, "transform": [{"filter": "datum.p==='E'"}],
 "mark": {"type": "bar", "stroke": "#222", "strokeWidth": 1},
 "encoding": {
  "x": {"field": "g", "type": "nominal", "scale": {"domain": ["control","LPS","PDS +LPS","Dexa +LPS"], "range": [0, 245], "paddingInner": 0.16, "paddingOuter": 0.098, "align": 0.67}, "axis": {"title": null, "labelExpr": "split(datum.label, ' ')", "labelPadding": 6, "labelLineHeight": 16.5}},
  "y": {"field": "m", "type": "quantitative", "scale": {"domain": [0, 400], "range": [118, -15], "nice": false}, "axis": {"title": "Serum AST (IU/L)", "titleFontSize": 16.5, "values": [0, 100, 200, 300, 400], "tickCount": 12, "labelOverlap": false, "labelPadding": 2, "titlePadding": 11}},
  "fill": {"field": "g", "type": "nominal", "scale": {"domain": ["control","LPS","PDS +LPS","Dexa +LPS"], "range": ["#ffffff","#7f7f7f","#ffffff","#000000"]}, "legend": null}
 }},
{"data": {"name": "bars"}, "transform": [{"filter": "datum.p==='E' && datum.g==='PDS +LPS'"}],
 "mark": {"type": "bar", "stroke": "#222", "strokeWidth": 1, "fill": {"gradient": "linear", "x1": 0, "y1": 0, "x2": 0.911, "y2": 1.075, "stops": [{"offset":0,"color":"#fff"},{"offset":0.0172,"color":"#fff"},{"offset":0.0172,"color":"#000"},{"offset":0.0313,"color":"#000"},{"offset":0.0313,"color":"#fff"},{"offset":0.0484,"color":"#fff"},{"offset":0.0484,"color":"#000"},{"offset":0.0625,"color":"#000"},{"offset":0.0625,"color":"#fff"},{"offset":0.0797,"color":"#fff"},{"offset":0.0797,"color":"#000"},{"offset":0.0938,"color":"#000"},{"offset":0.0938,"color":"#fff"},{"offset":0.1109,"color":"#fff"},{"offset":0.1109,"color":"#000"},{"offset":0.125,"color":"#000"},{"offset":0.125,"color":"#fff"},{"offset":0.1422,"color":"#fff"},{"offset":0.1422,"color":"#000"},{"offset":0.1563,"color":"#000"},{"offset":0.1563,"color":"#fff"},{"offset":0.1734,"color":"#fff"},{"offset":0.1734,"color":"#000"},{"offset":0.1875,"color":"#000"},{"offset":0.1875,"color":"#fff"},{"offset":0.2047,"color":"#fff"},{"offset":0.2047,"color":"#000"},{"offset":0.2188,"color":"#000"},{"offset":0.2188,"color":"#fff"},{"offset":0.2359,"color":"#fff"},{"offset":0.2359,"color":"#000"},{"offset":0.25,"color":"#000"},{"offset":0.25,"color":"#fff"},{"offset":0.2672,"color":"#fff"},{"offset":0.2672,"color":"#000"},{"offset":0.2813,"color":"#000"},{"offset":0.2813,"color":"#fff"},{"offset":0.2984,"color":"#fff"},{"offset":0.2984,"color":"#000"},{"offset":0.3125,"color":"#000"},{"offset":0.3125,"color":"#fff"},{"offset":0.3297,"color":"#fff"},{"offset":0.3297,"color":"#000"},{"offset":0.3438,"color":"#000"},{"offset":0.3438,"color":"#fff"},{"offset":0.3609,"color":"#fff"},{"offset":0.3609,"color":"#000"},{"offset":0.375,"color":"#000"},{"offset":0.375,"color":"#fff"},{"offset":0.3922,"color":"#fff"},{"offset":0.3922,"color":"#000"},{"offset":0.4063,"color":"#000"},{"offset":0.4063,"color":"#fff"},{"offset":0.4234,"color":"#fff"},{"offset":0.4234,"color":"#000"},{"offset":0.4375,"color":"#000"},{"offset":0.4375,"color":"#fff"},{"offset":0.4547,"color":"#fff"},{"offset":0.4547,"color":"#000"},{"offset":0.4688,"color":"#000"},{"offset":0.4688,"color":"#fff"},{"offset":0.4859,"color":"#fff"},{"offset":0.4859,"color":"#000"},{"offset":0.5,"color":"#000"},{"offset":0.5,"color":"#fff"},{"offset":0.5172,"color":"#fff"},{"offset":0.5172,"color":"#000"},{"offset":0.5313,"color":"#000"},{"offset":0.5313,"color":"#fff"},{"offset":0.5484,"color":"#fff"},{"offset":0.5484,"color":"#000"},{"offset":0.5625,"color":"#000"},{"offset":0.5625,"color":"#fff"},{"offset":0.5797,"color":"#fff"},{"offset":0.5797,"color":"#000"},{"offset":0.5938,"color":"#000"},{"offset":0.5938,"color":"#fff"},{"offset":0.6109,"color":"#fff"},{"offset":0.6109,"color":"#000"},{"offset":0.625,"color":"#000"},{"offset":0.625,"color":"#fff"},{"offset":0.6422,"color":"#fff"},{"offset":0.6422,"color":"#000"},{"offset":0.6563,"color":"#000"},{"offset":0.6563,"color":"#fff"},{"offset":0.6734,"color":"#fff"},{"offset":0.6734,"color":"#000"},{"offset":0.6875,"color":"#000"},{"offset":0.6875,"color":"#fff"},{"offset":0.7047,"color":"#fff"},{"offset":0.7047,"color":"#000"},{"offset":0.7188,"color":"#000"},{"offset":0.7188,"color":"#fff"},{"offset":0.7359,"color":"#fff"},{"offset":0.7359,"color":"#000"},{"offset":0.75,"color":"#000"},{"offset":0.75,"color":"#fff"},{"offset":0.7672,"color":"#fff"},{"offset":0.7672,"color":"#000"},{"offset":0.7813,"color":"#000"},{"offset":0.7813,"color":"#fff"},{"offset":0.7984,"color":"#fff"},{"offset":0.7984,"color":"#000"},{"offset":0.8125,"color":"#000"},{"offset":0.8125,"color":"#fff"},{"offset":0.8297,"color":"#fff"},{"offset":0.8297,"color":"#000"},{"offset":0.8438,"color":"#000"},{"offset":0.8438,"color":"#fff"},{"offset":0.8609,"color":"#fff"},{"offset":0.8609,"color":"#000"},{"offset":0.875,"color":"#000"},{"offset":0.875,"color":"#fff"},{"offset":0.8922,"color":"#fff"},{"offset":0.8922,"color":"#000"},{"offset":0.9063,"color":"#000"},{"offset":0.9063,"color":"#fff"},{"offset":0.9234,"color":"#fff"},{"offset":0.9234,"color":"#000"},{"offset":0.9375,"color":"#000"},{"offset":0.9375,"color":"#fff"},{"offset":0.9547,"color":"#fff"},{"offset":0.9547,"color":"#000"},{"offset":0.9688,"color":"#000"},{"offset":0.9688,"color":"#fff"},{"offset":0.9859,"color":"#fff"},{"offset":0.9859,"color":"#000"},{"offset":1,"color":"#000"}]}},
 "encoding": {"x": {"field": "g", "type": "nominal"}, "y": {"field": "m", "type": "quantitative"}}},
{"data": {"name": "bars"}, "transform": [{"filter": "datum.p==='E'"}],
 "mark": {"type": "rule", "color": "#000", "strokeWidth": 1.2},
 "encoding": {"x": {"field": "g", "type": "nominal"}, "y": {"field": "m", "type": "quantitative"}, "y2": {"field": "u"}}},
{"data": {"name": "bars"}, "transform": [{"filter": "datum.p==='E'"}],
 "mark": {"type": "tick", "color": "#000", "thickness": 1.2, "size": 7},
 "encoding": {"x": {"field": "g", "type": "nominal"}, "y": {"field": "u", "type": "quantitative"}}},
{"data": {"name": "br"}, "transform": [{"filter": "datum.p==='E' && datum.a==='control'"}],
 "mark": {"type": "rule", "color": "#333", "strokeWidth": 1, "x2Offset": -2},
 "encoding": {"x": {"field": "a", "type": "nominal"}, "x2": {"field": "b"}, "y": {"field": "y", "type": "quantitative"}}},
{"data": {"name": "br"}, "transform": [{"filter": "datum.p==='E' && datum.a==='control'"}],
 "mark": {"type": "rule", "color": "#333", "strokeWidth": 1},
 "encoding": {"x": {"field": "a", "type": "nominal"}, "y": {"field": "y", "type": "quantitative"}, "y2": {"field": "ya"}}},
{"data": {"name": "br"}, "transform": [{"filter": "datum.p==='E' && datum.a==='control'"}],
 "mark": {"type": "rule", "color": "#333", "strokeWidth": 1, "xOffset": -2},
 "encoding": {"x": {"field": "b", "type": "nominal"}, "y": {"field": "y", "type": "quantitative"}, "y2": {"field": "yb"}}},
{"data": {"name": "br"}, "transform": [{"filter": "datum.p==='E' && datum.a==='LPS'"}],
 "mark": {"type": "rule", "color": "#333", "strokeWidth": 1, "xOffset": 3},
 "encoding": {"x": {"field": "a", "type": "nominal"}, "x2": {"field": "b"}, "y": {"field": "y", "type": "quantitative"}}},
{"data": {"name": "br"}, "transform": [{"filter": "datum.p==='E' && datum.a==='LPS'"}],
 "mark": {"type": "rule", "color": "#333", "strokeWidth": 1, "xOffset": 3},
 "encoding": {"x": {"field": "a", "type": "nominal"}, "y": {"field": "y", "type": "quantitative"}, "y2": {"field": "ya"}}},
{"data": {"name": "br"}, "transform": [{"filter": "datum.p==='E' && datum.a==='LPS'"}],
 "mark": {"type": "rule", "color": "#333", "strokeWidth": 1},
 "encoding": {"x": {"field": "b", "type": "nominal"}, "y": {"field": "y", "type": "quantitative"}, "y2": {"field": "yb"}}},
{"data": {"name": "br"}, "transform": [{"filter": "datum.p==='E' && datum.a==='control'"}],
 "mark": {"type": "text", "fontSize": 14, "fontWeight": "bold", "baseline": "alphabetic", "dy": -4, "xOffset": 30},
 "encoding": {"x": {"field": "a", "type": "nominal"}, "y": {"field": "y", "type": "quantitative"}, "text": {"field": "t"}}},
{"data": {"name": "br"}, "transform": [{"filter": "datum.p==='E' && datum.a==='LPS' && datum.b==='PDS +LPS'"}],
 "mark": {"type": "text", "fontSize": 20, "fontWeight": "bold", "baseline": "alphabetic", "dy": 5, "xOffset": 30},
 "encoding": {"x": {"field": "a", "type": "nominal"}, "y": {"field": "y", "type": "quantitative"}, "text": {"field": "t"}}},
{"data": {"name": "br"}, "transform": [{"filter": "datum.p==='E' && datum.a==='LPS' && datum.b==='Dexa +LPS'"}],
 "mark": {"type": "text", "fontSize": 20, "fontWeight": "bold", "baseline": "alphabetic", "dy": 5, "xOffset": 61},
 "encoding": {"x": {"field": "a", "type": "nominal"}, "y": {"field": "y", "type": "quantitative"}, "text": {"field": "t"}}}
]
}
],
"config": {
 "font": "Liberation Sans",
 "background": "#ffffff",
 "view": {"stroke": null},
 "title": {"anchor": "start", "frame": "group", "fontSize": 17, "fontWeight": "bold", "color": "#000", "font": "Liberation Sans"},
 "axis": {"labelFont": "Liberation Sans", "labelFontWeight": "bold", "labelColor": "#000", "labelFontSize": 15, "titleFont": "Liberation Sans", "titleFontWeight": "bold", "titleColor": "#000", "titleFontSize": 16, "domainColor": "#333", "tickColor": "#333", "grid": false},
 "axisX": {"ticks": false, "labelAngle": 0, "labelFontSize": 16, "labelPadding": 20, "labelLineHeight": 21, "labelOverlap": false},
 "axisY": {"tickSize": 5, "labelOverlap": false}
}
}
